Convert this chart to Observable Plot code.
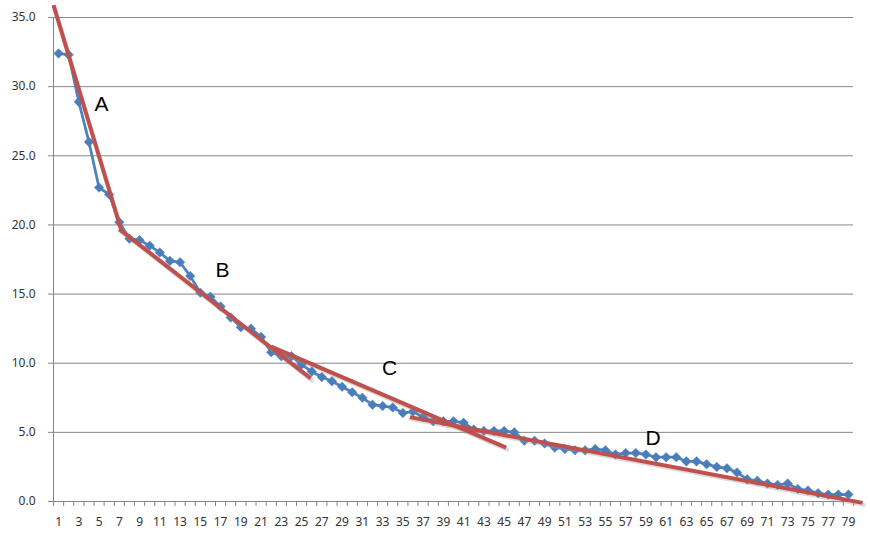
<!DOCTYPE html>
<html><head><meta charset="utf-8">
<script src="https://cdn.jsdelivr.net/npm/d3@7"></script>
<script src="https://cdn.jsdelivr.net/npm/@observablehq/plot@0.6"></script>
<style>body{margin:0;background:#fff;} #chart{width:870px;height:537px;}</style>
</head><body><div id="chart"></div>
<script>
const categories = d3.range(1, 80);
const values = [32.4, 32.3, 28.9, 26.0, 22.7, 22.2, 20.2, 19.0, 18.9, 18.5,
  18.0, 17.4, 17.3, 16.3, 15.1, 14.8, 14.1, 13.3, 12.6, 12.5,
  11.9, 10.8, 10.5, 10.5, 9.9, 9.4, 9.0, 8.7, 8.3, 7.9,
  7.5, 7.0, 6.9, 6.8, 6.4, 6.5, 6.1, 5.8, 5.8, 5.8,
  5.7, 5.2, 5.1, 5.1, 5.1, 5.0, 4.4, 4.4, 4.2, 3.9,
  3.8, 3.7, 3.7, 3.8, 3.7, 3.4, 3.5, 3.5, 3.4, 3.2,
  3.2, 3.2, 2.9, 2.9, 2.7, 2.5, 2.4, 2.1, 1.6, 1.5,
  1.3, 1.2, 1.3, 0.9, 0.8, 0.6, 0.5, 0.5, 0.5];
const trendNames = ["A", "B", "C", "D"];
const trendX = [[0.5, 7.2], [7.0, 25.9], [22.0, 45.2], [35.7, 80.4]];
const trendY = [[35.9, 19.6], [19.7, 8.9], [11.2, 3.9], [6.1, -0.1]];
const labelX = [5.25, 17.2, 33.7, 59.7];
const labelY = [28.7, 16.7, 9.6, 4.6];
const yTicks = [0, 5, 10, 15, 20, 25, 30, 35];
const xLabels = categories.filter(d => d % 2 === 1);
const xBoundaries = d3.range(0.5, 80, 1);

const series = categories.map((c, i) => ({c, v: values[i]}));
const trends = trendNames.flatMap((n, k) => [0, 1].map(j => ({n, x: trendX[k][j], y: trendY[k][j]})));
const labels = trendNames.map((n, k) => ({n, x: labelX[k], y: labelY[k]}));

const chart = Plot.plot({
  width: 870, height: 537,
  marginLeft: 53, marginRight: 17, marginTop: 17, marginBottom: 36,
  style: {fontFamily: "'Noto Sans', sans-serif", fontSize: "12px", color: "#333", background: "#fff"},
  x: {type: "linear", domain: [0.5, 79.5]},
  y: {domain: [0, 35]},
  marks: [
    Plot.gridY(yTicks, {stroke: "#868686", strokeOpacity: 1, strokeWidth: 1}),
    Plot.ruleX([0.5], {stroke: "#868686"}),
    Plot.axisY(yTicks, {tickSize: 5, tickPadding: 13, tickFormat: d => d.toFixed(1), stroke: "#868686", label: null}),
    Plot.axisX(xBoundaries, {tickSize: 5, tickFormat: () => "", stroke: "#868686", label: null}),
    Plot.axisX(xLabels, {tickSize: 0, tickPadding: 16, label: null}),
    Plot.line(series, {x: "c", y: "v", stroke: "#4f81bd", strokeWidth: 2.75}),
    Plot.dot(series, {x: "c", y: "v", symbol: "diamond2", r: 4.3, fill: "#4a7ebb", stroke: "#4a7ebb", strokeWidth: 0.5}),
    Plot.line(trends, {x: "x", y: "y", z: "n", stroke: "#999", strokeOpacity: 0.35, strokeWidth: 4, dx: 1, dy: 2}),
    Plot.line(trends, {x: "x", y: "y", z: "n", stroke: "#c0504d", strokeWidth: 4, strokeLinecap: "butt"}),
    Plot.text(labels, {x: "x", y: "y", text: "n", fontSize: 21, fill: "#000", fontFamily: "'Liberation Sans', Arial, sans-serif"})
  ]
});
document.getElementById("chart").append(chart);
</script>
</body></html>
